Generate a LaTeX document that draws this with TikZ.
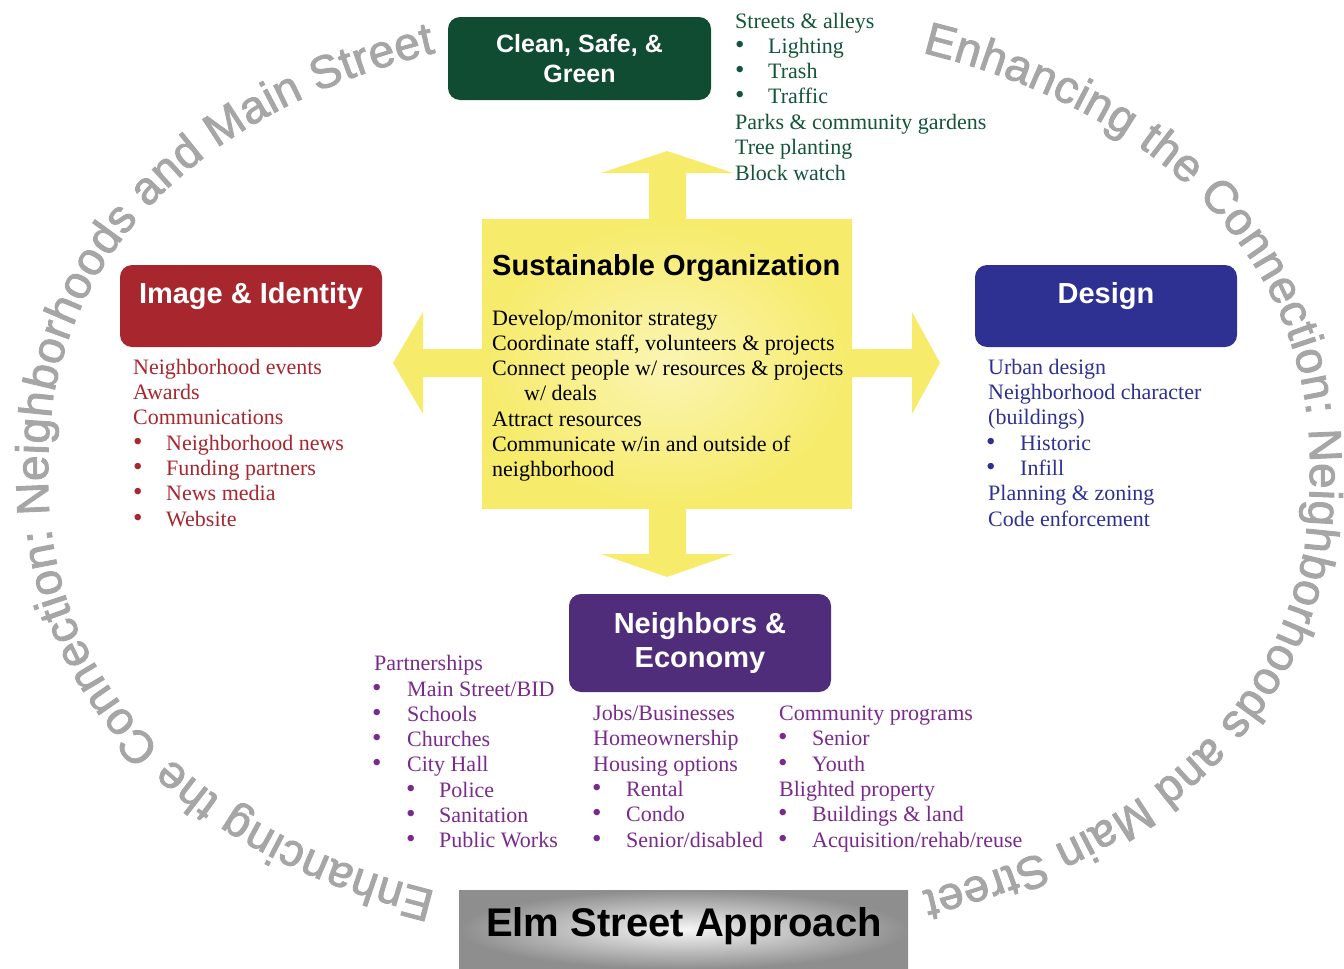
\documentclass[tikz,border=0pt]{standalone}
\usepackage{fontspec}
\setmainfont{Liberation Serif}
\newfontfamily\arialf{Liberation Sans}
\newfontfamily\circfont[FakeBold=2]{Liberation Sans}
\usetikzlibrary{decorations.text}
\definecolor{cyellow}{HTML}{F6EB6A}
\definecolor{cyellowlight}{HTML}{FBF5B4}
\definecolor{cgreen}{HTML}{104C32}
\definecolor{tgreen}{HTML}{14553A}
\definecolor{cred}{HTML}{A8262E}
\definecolor{cblue}{HTML}{2E3192}
\definecolor{cpurple}{HTML}{502D7A}
\definecolor{tpurple}{HTML}{7A2A8C}
\definecolor{circgray}{HTML}{A6A6A6}
\definecolor{elmdark}{HTML}{8E8E8E}
\definecolor{elmlight}{HTML}{F6F6F6}
\begin{document}
\begin{tikzpicture}[x=1pt,y=-1pt,
 gtxt/.style={anchor=base west, inner sep=0pt, font=\fontsize{22}{26}\selectfont, text=tgreen},
 rtxt/.style={gtxt, text=cred},
 btxt/.style={gtxt, text=cblue},
 ptxt/.style={gtxt, text=tpurple},
 ktxt/.style={gtxt, text=black},
 bul/.style={font=\fontsize{27}{26}\selectfont},
 hbox/.style={rounded corners=12pt, inner sep=0pt, draw=none},
 htitle/.style={inner sep=0pt, text=white, font=\arialf\bfseries\fontsize{29}{34}\selectfont, align=center},
 circtext/.style={decorate, decoration={text along path, text align={fit to path},
  text={|\circfont\fontsize{46}{46}\selectfont\color{circgray}|Enhancing the Connection: Neighborhoods and Main Street}}},
]
\useasboundingbox (0,0) rectangle (1344,969);

% circular text on a rounded (super-elliptic) ring
\path[circtext] plot[domain=-69.5:69.5, samples=220, variable=\t]
  ({679 + 631*pow(cos(\t),0.909)}, {472 + 445*sign(sin(\t))*pow(abs(sin(\t))+0.000001,0.909)});
\path[circtext] plot[domain=110.5:249.5, samples=220, variable=\t]
  ({679 - 631*pow(abs(cos(\t)),0.909)}, {472 + 445*sign(sin(\t))*pow(abs(sin(\t))+0.000001,0.909)});

% yellow cross
\fill[cyellow] (649,219) -- (649,173) -- (601,173) -- (667,151) -- (733,173) -- (686,173) -- (686,219) -- cycle;
\fill[cyellow] (649,508) -- (649,554) -- (601,554) -- (667,577) -- (733,554) -- (686,554) -- (686,508) -- cycle;
\fill[cyellow] (482,349) -- (423,349) -- (423,312) -- (393,363) -- (423,414) -- (423,377) -- (482,377) -- cycle;
\fill[cyellow] (852,349) -- (912,349) -- (912,312) -- (940,363) -- (912,414) -- (912,377) -- (852,377) -- cycle;
\node[minimum width=370pt, minimum height=289pt, inner sep=0pt, inner color=cyellowlight, outer color=cyellow] (so) at (667,363.5) {};

\node[anchor=base west, inner sep=0pt, font=\arialf\bfseries\fontsize{29}{34}\selectfont] (sot) at (492,275) {Sustainable Organization};
\node[ktxt] (s1) at (492,325) {Develop/monitor strategy};
\node[ktxt] (s2) at (492,350) {Coordinate staff, volunteers \& projects};
\node[ktxt] (s3) at (492,375) {Connect people w/ resources \& projects};
\node[ktxt] (s4) at (524,400) {w/ deals};
\node[ktxt] (s5) at (492,426) {Attract resources};
\node[ktxt] (s6) at (492,451) {Communicate w/in and outside of};
\node[ktxt] (s7) at (492,476) {neighborhood};

% green
\node[hbox, fill=cgreen, minimum width=263pt, minimum height=83pt, htitle, font=\arialf\bfseries\fontsize{25}{30}\selectfont] (csg) at (579.5,58.5) {Clean, Safe, \&\\Green};
\node[gtxt] (g1) at (735,28) {Streets \& alleys};
\node[gtxt, bul] (g2b) at (735,53) {•};
\node[gtxt] (g2) at (768,53) {Lighting};
\node[gtxt, bul] (g3b) at (735,78) {•};
\node[gtxt] (g3) at (768,78) {Trash};
\node[gtxt, bul] (g4b) at (735,103) {•};
\node[gtxt] (g4) at (768,103) {Traffic};
\node[gtxt] (g5) at (735,129) {Parks \& community gardens};
\node[gtxt] (g6) at (735,154) {Tree planting};
\node[gtxt] (g7) at (735,180) {Block watch};

% red
\node[hbox, fill=cred, minimum width=262pt, minimum height=82pt] (ii) at (251,306) {};
\node[htitle, anchor=base] (iit) at (251,303) {Image \& Identity};
\node[rtxt] (r1) at (133,374) {Neighborhood events};
\node[rtxt] (r2) at (133,399) {Awards};
\node[rtxt] (r3) at (133,424) {Communications};
\node[rtxt, bul] (r4b) at (133,450) {•};
\node[rtxt] (r4) at (166,450) {Neighborhood news};
\node[rtxt, bul] (r5b) at (133,475) {•};
\node[rtxt] (r5) at (166,475) {Funding partners};
\node[rtxt, bul] (r6b) at (133,500) {•};
\node[rtxt] (r6) at (166,500) {News media};
\node[rtxt, bul] (r7b) at (133,526) {•};
\node[rtxt] (r7) at (166,526) {Website};

% blue
\node[hbox, fill=cblue, minimum width=262pt, minimum height=82pt] (des) at (1106,306) {};
\node[htitle, anchor=base] (dest) at (1106,303) {Design};
\node[btxt] (b1) at (988,374) {Urban design};
\node[btxt] (b2) at (988,399) {Neighborhood character};
\node[btxt] (b3) at (988,424) {(buildings)};
\node[btxt, bul] (b4b) at (986,450) {•};
\node[btxt] (b4) at (1020,450) {Historic};
\node[btxt, bul] (b5b) at (986,475) {•};
\node[btxt] (b5) at (1020,475) {Infill};
\node[btxt] (b6) at (988,500) {Planning \& zoning};
\node[btxt] (b7) at (988,526) {Code enforcement};

% purple
\node[hbox, fill=cpurple, minimum width=262pt, minimum height=98pt, htitle] (ne) at (700,643) {Neighbors \&\\Economy};
\node[ptxt] (p1) at (374,670) {Partnerships};
\node[ptxt, bul] (p2b) at (372,696) {•};
\node[ptxt] (p2) at (407,696) {Main Street/BID};
\node[ptxt, bul] (p3b) at (372,721) {•};
\node[ptxt] (p3) at (407,721) {Schools};
\node[ptxt, bul] (p4b) at (372,746) {•};
\node[ptxt] (p4) at (407,746) {Churches};
\node[ptxt, bul] (p5b) at (372,771) {•};
\node[ptxt] (p5) at (407,771) {City Hall};
\node[ptxt, bul] (p6b) at (406,797) {•};
\node[ptxt] (p6) at (439,797) {Police};
\node[ptxt, bul] (p7b) at (406,822) {•};
\node[ptxt] (p7) at (439,822) {Sanitation};
\node[ptxt, bul] (p8b) at (406,847) {•};
\node[ptxt] (p8) at (439,847) {Public Works};

\node[ptxt] (m1) at (593,720) {Jobs/Businesses};
\node[ptxt] (m2) at (593,745) {Homeownership};
\node[ptxt] (m3) at (593,771) {Housing options};
\node[ptxt, bul] (m4b) at (592,796) {•};
\node[ptxt] (m4) at (626,796) {Rental};
\node[ptxt, bul] (m5b) at (592,821) {•};
\node[ptxt] (m5) at (626,821) {Condo};
\node[ptxt, bul] (m6b) at (592,847) {•};
\node[ptxt] (m6) at (626,847) {Senior/disabled};

\node[ptxt] (c1) at (779,720) {Community programs};
\node[ptxt, bul] (c2b) at (778,745) {•};
\node[ptxt] (c2) at (812,745) {Senior};
\node[ptxt, bul] (c3b) at (778,771) {•};
\node[ptxt] (c3) at (812,771) {Youth};
\node[ptxt] (c4) at (779,796) {Blighted property};
\node[ptxt, bul] (c5b) at (778,821) {•};
\node[ptxt] (c5) at (812,821) {Buildings \& land};
\node[ptxt, bul] (c6b) at (778,847) {•};
\node[ptxt] (c6) at (812,847) {Acquisition/rehab/reuse};

% Elm Street
\node[minimum width=449pt, minimum height=79pt, inner sep=0pt, inner color=elmlight, outer color=elmdark] (elm) at (683.5,929.5) {};
\node[anchor=base, inner sep=0pt, font=\arialf\bfseries\fontsize{40}{40}\selectfont] (elmt) at (684,936) {Elm Street Approach};
\end{tikzpicture}
\end{document}
